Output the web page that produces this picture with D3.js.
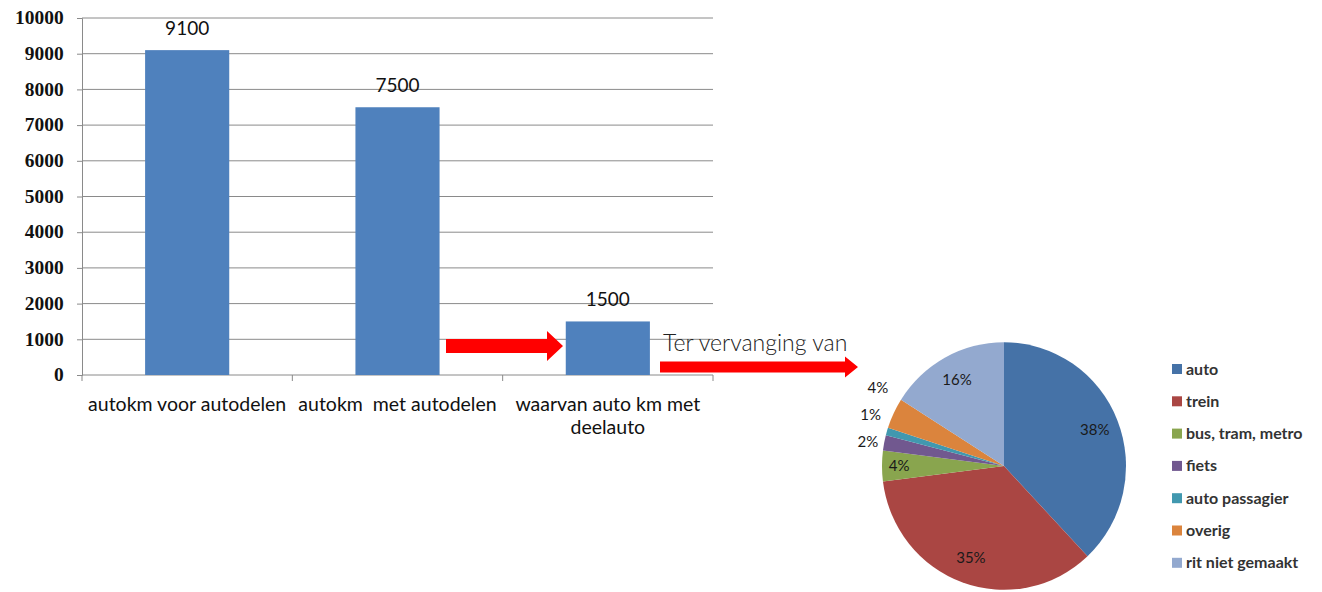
<!DOCTYPE html>
<html><head><meta charset="utf-8">
<script src="https://cdn.jsdelivr.net/npm/d3@7"></script>
<style>body{margin:0;background:#fff}svg{display:block}</style>
</head><body><svg id="c" width="1322" height="592"></svg>
<script>
const barCategories = [["autokm voor autodelen"], ["autokm  met autodelen"], ["waarvan auto km met", "deelauto"]];
const barValues = [9100, 7500, 1500];
const yTicks = [0, 1000, 2000, 3000, 4000, 5000, 6000, 7000, 8000, 9000, 10000];
const pieLabels = ["auto", "trein", "bus, tram, metro", "fiets", "auto passagier", "overig", "rit niet gemaakt"];
const pieValues = [38, 35, 4, 2, 1, 4, 16];
const pieColors = ["#4572A7", "#AA4643", "#89A54E", "#71588F", "#4198AF", "#DB843D", "#93A9CF"];
const annotation = "Ter vervanging van";

const svg = d3.select("#c");
const L = 82, R = 713, T = 18, B = 375;
const x = d3.scaleBand().domain(d3.range(barValues.length)).range([L, R]).paddingInner(0.6).paddingOuter(0.3);
const y = d3.scaleLinear().domain([0, 10000]).range([B, T]);

// gridlines
svg.append("g").selectAll("line").data(yTicks.filter(d => d > 0)).join("line")
  .attr("x1", L).attr("x2", R).attr("y1", d => y(d)).attr("y2", d => y(d))
  .attr("stroke", "#8a8a8a").attr("stroke-width", 1);

// y axis
const ya = svg.append("g").attr("transform", `translate(${L},0)`)
  .call(d3.axisLeft(y).tickValues(yTicks).tickSize(5).tickPadding(14).tickFormat(d3.format("d")));
ya.select(".domain").attr("stroke", "#8a8a8a");
ya.selectAll(".tick line").attr("stroke", "#8a8a8a");
ya.selectAll("text").attr("font-family", "Liberation Serif").attr("font-weight", "bold")
  .attr("font-size", 18).attr("fill", "#111").attr("transform", "scale(1.08,1)").attr("x", -17);

// x axis line + boundary ticks
const bounds = [L, L + (R - L) / 3, L + 2 * (R - L) / 3, R];
svg.append("line").attr("x1", L).attr("x2", R).attr("y1", B).attr("y2", B).attr("stroke", "#8a8a8a");
svg.append("g").selectAll("line").data(bounds).join("line")
  .attr("x1", d => d).attr("x2", d => d).attr("y1", B).attr("y2", B + 6).attr("stroke", "#8a8a8a");

// bars
svg.append("g").selectAll("rect").data(barValues).join("rect")
  .attr("x", (d, i) => x(i)).attr("width", x.bandwidth())
  .attr("y", d => y(d)).attr("height", d => B - y(d)).attr("fill", "#4F81BD");

// value labels
svg.append("g").selectAll("text").data(barValues).join("text")
  .attr("x", (d, i) => x(i) + x.bandwidth() / 2).attr("y", d => y(d) - 15)
  .attr("text-anchor", "middle").attr("font-family", "Lato").attr("font-size", 19).attr("fill", "#111")
  .text(d => d);

// category labels
const cg = svg.append("g");
barCategories.forEach((lines, i) => {
  lines.forEach((t, j) => {
    cg.append("text").attr("x", x(i) + x.bandwidth() / 2).attr("y", 411 + j * 23)
      .attr("text-anchor", "middle").attr("font-family", "Lato").attr("font-size", 19.5).attr("fill", "#111")
      .attr("xml:space", "preserve").style("white-space", "pre").text(t);
  });
});

// arrows
function arrow(x0, x1, hx, yc, sh, hh) {
  svg.append("path").attr("fill", "#FF0000")
    .attr("d", `M${x0},${yc - sh / 2}L${hx},${yc - sh / 2}L${hx},${yc - hh / 2}L${x1},${yc}L${hx},${yc + hh / 2}L${hx},${yc + sh / 2}L${x0},${yc + sh / 2}Z`);
}
arrow(446, 563, 547, 346, 14, 30);
arrow(660, 858, 845, 367, 11, 21);

svg.append("text").attr("x", 663).attr("y", 351).attr("font-family", "Lato").attr("font-weight", 300)
  .attr("font-size", 23).attr("fill", "#222").text(annotation);

// pie
const cx = 1004, cy = 466, r = 122;
const pie = d3.pie().sort(null).value(d => d)(pieValues);
const arc = d3.arc().innerRadius(0).outerRadius(r);
const pg = svg.append("g").attr("transform", `translate(${cx},${cy}) scale(1,1.015)`);
pg.selectAll("path").data(pie).join("path").attr("d", arc).attr("fill", (d, i) => pieColors[i]);

// pie labels
const lg = svg.append("g");
const inside = [0, 1, 2, 6];
const outs = [];
pie.forEach((d, i) => {
  const mid = (d.startAngle + d.endAngle) / 2;
  if (inside.includes(i)) {
    const rr = i === 2 ? r * 0.86 : r * 0.8;
    lg.append("text").attr("x", cx + Math.sin(mid) * rr).attr("y", cy - Math.cos(mid) * rr + 5)
      .attr("text-anchor", "middle").attr("font-family", "Lato").attr("font-size", 15).attr("fill", "#1a1a1a")
      .text(d.data + "%");
  } else {
    const rr = r + 6;
    outs.push({ v: d.data, x: cx + Math.sin(mid) * rr, y: cy - Math.cos(mid) * rr + 5 });
  }
});
// spread outside labels upward
outs.sort((a, b) => b.y - a.y);
outs.forEach((o, k) => { if (k > 0 && outs[k - 1].y - o.y < 27) o.y = outs[k - 1].y - 27; });
outs.forEach(o => {
  lg.append("text").attr("x", o.x).attr("y", o.y).attr("text-anchor", "end")
    .attr("font-family", "Lato").attr("font-size", 15).attr("fill", "#1a1a1a").text(o.v + "%");
});

// legend
const leg = svg.append("g").attr("transform", "translate(1172,369)");
pieLabels.forEach((t, i) => {
  const g = leg.append("g").attr("transform", `translate(0,${i * 32.3})`);
  g.append("rect").attr("x", 0).attr("y", -5).attr("width", 10).attr("height", 10).attr("fill", pieColors[i]);
  g.append("text").attr("x", 14).attr("y", 5.5).attr("font-family", "Lato").attr("font-weight", "bold")
    .attr("font-size", 16).attr("fill", "#333").text(t);
});
</script></body></html>
